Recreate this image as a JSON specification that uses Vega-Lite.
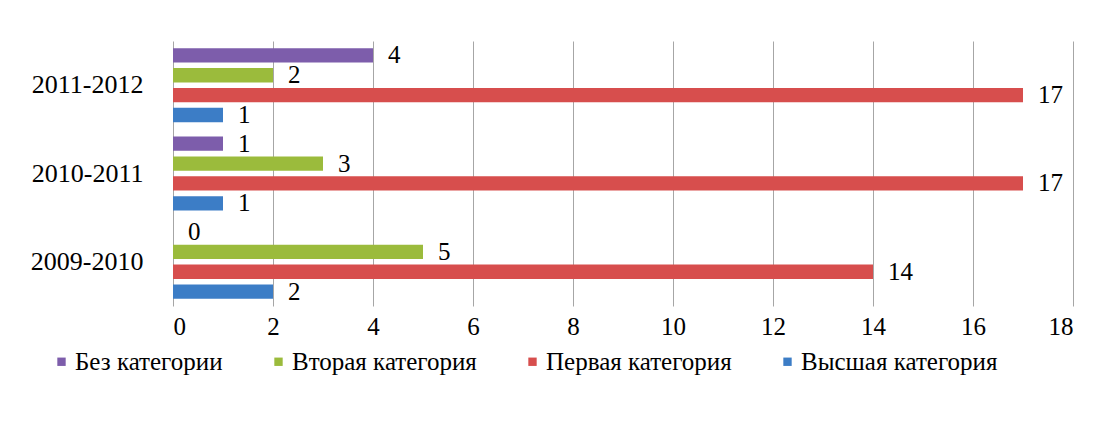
{
  "$schema": "https://vega.github.io/schema/vega-lite/v6.json",
  "width": 900,
  "height": 265,
  "autosize": "none",
  "padding": {"left": 173, "top": 41, "right": 29, "bottom": 115},
  "background": "white",
  "config": {
    "view": {"stroke": null},
    "font": "Liberation Serif"
  },
  "data": {
    "values": [
      {"year": "2011-2012", "cat": "Без категории", "value": 4},
      {"year": "2011-2012", "cat": "Вторая категория", "value": 2},
      {"year": "2011-2012", "cat": "Первая категория", "value": 17},
      {"year": "2011-2012", "cat": "Высшая категория", "value": 1},
      {"year": "2010-2011", "cat": "Без категории", "value": 1},
      {"year": "2010-2011", "cat": "Вторая категория", "value": 3},
      {"year": "2010-2011", "cat": "Первая категория", "value": 17},
      {"year": "2010-2011", "cat": "Высшая категория", "value": 1},
      {"year": "2009-2010", "cat": "Без категории", "value": 0},
      {"year": "2009-2010", "cat": "Вторая категория", "value": 5},
      {"year": "2009-2010", "cat": "Первая категория", "value": 14},
      {"year": "2009-2010", "cat": "Высшая категория", "value": 2}
    ]
  },
  "encoding": {
    "y": {
      "field": "year",
      "type": "nominal",
      "sort": ["2011-2012", "2010-2011", "2009-2010"],
      "scale": {"paddingInner": 0, "paddingOuter": 0},
      "axis": {
        "title": null,
        "ticks": false,
        "domain": false,
        "labelFont": "Liberation Serif",
        "labelFontSize": 26,
        "labelColor": "black",
        "labelPadding": 30
      }
    },
    "yOffset": {
      "field": "cat",
      "type": "nominal",
      "sort": ["Без категории", "Вторая категория", "Первая категория", "Высшая категория"],
      "scale": {"paddingInner": 0.28, "paddingOuter": 0.36}
    },
    "x": {
      "field": "value",
      "type": "quantitative",
      "scale": {"domain": [0, 18], "nice": false},
      "axis": {
        "title": null,
        "tickCount": 9,
        "grid": true,
        "gridColor": "#A6A6A6",
        "gridWidth": 1,
        "domain": false,
        "ticks": false,
        "labelFont": "Liberation Serif",
        "labelFontSize": 25,
        "labelColor": "black",
        "labelPadding": 8,
        "encode": {"labels": {"update": {"font": {"value": "Liberation Serif"}}}}
      }
    }
  },
  "layer": [
    {
      "mark": {"type": "bar"},
      "encoding": {
        "color": {
          "field": "cat",
          "type": "nominal",
          "scale": {
            "domain": ["Без категории", "Вторая категория", "Первая категория", "Высшая категория"],
            "range": ["#7D5DAB", "#9BBB3C", "#D74E4D", "#3C7DC6"]
          },
          "legend": {
            "title": null,
            "orient": "none",
            "legendX": -124,
            "legendY": 308,
            "padding": 0,
            "direction": "horizontal",
            "columns": 4,
            "columnPadding": 43,
            "symbolType": "square",
            "symbolSize": 70,
            "symbolStrokeWidth": 0,
            "labelOffset": 1,
            "labelFont": "Liberation Serif",
            "labelFontSize": 25,
            "labelColor": "black",
            "labelLimit": 400,
            "encode": {"labels": {"update": {"font": {"value": "Liberation Serif"}}}}
          }
        }
      }
    },
    {
      "mark": {"type": "text", "align": "left", "baseline": "middle", "dx": 15, "fontSize": 25, "font": "Liberation Serif", "color": "black"},
      "encoding": {
        "text": {"field": "value", "type": "quantitative"}
      }
    }
  ]
}
